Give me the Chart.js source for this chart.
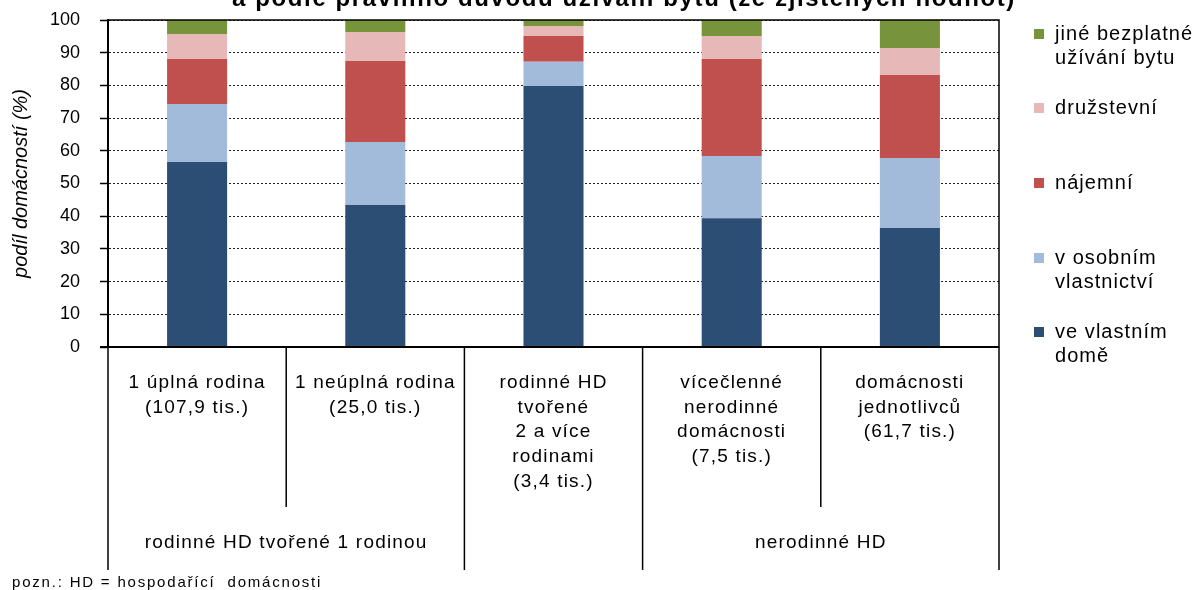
<!DOCTYPE html>
<html>
<head>
<meta charset="utf-8">
<script src="https://cdn.jsdelivr.net/npm/chart.js@4"></script>
<style>
  body { margin: 0; background: #fff; }
  canvas { display: block; }
</style>
</head>
<body>
<canvas id="housingChart" width="1196" height="590"></canvas>
<script>
const categories = [
  ['1 úplná rodina', '(107,9 tis.)'],
  ['1 neúplná rodina', '(25,0 tis.)'],
  ['rodinné HD', 'tvořené', '2 a více', 'rodinami', '(3,4 tis.)'],
  ['vícečlenné', 'nerodinné', 'domácnosti', '(7,5 tis.)'],
  ['domácnosti', 'jednotlivců', '(61,7 tis.)']
];
const groupLabels = ['rodinné HD tvořené 1 rodinou', '', 'nerodinné HD'];
const groupSizes = [2, 1, 2];

const seriesNames = [
  ['ve vlastním', 'domě'],
  ['v osobním', 'vlastnictví'],
  ['nájemní'],
  ['družstevní'],
  ['jiné bezplatné', 'užívání bytu']
];
const ownHouse = [56.6, 43.4, 79.8, 39.4, 36.4];
const ownFlat = [17.7, 19.3, 7.4, 19.0, 21.4];
const rental = [13.8, 24.8, 7.9, 29.7, 25.4];
const coop = [7.6, 8.8, 3.1, 7.0, 8.2];
const otherFree = [4.3, 3.7, 1.8, 4.9, 8.6];
const colors = ['#2C4D74', '#A3BBDB', '#C0504D', '#E6B8B7', '#77933C'];
const yTicks = [0, 10, 20, 30, 40, 50, 60, 70, 80, 90, 100];

const titleText = 'a podle právního důvodu užívání bytu (ze zjištěných hodnot)';
const noteText = 'pozn.: HD = hospodařící  domácnosti';

const FONT = 'Arial, "Liberation Sans", sans-serif';

const extras = {
  id: 'extras',
  afterDraw(chart) {
    const ctx = chart.ctx;
    const area = chart.chartArea;
    const x = chart.scales.x;
    ctx.save();

    // plot border + axis line
    ctx.strokeStyle = '#000';
    ctx.lineWidth = 1.5;
    ctx.strokeRect(area.left, area.top, area.right - area.left, area.bottom - area.top);
    ctx.lineWidth = 2;
    ctx.beginPath();
    ctx.moveTo(area.left - 8, area.bottom);
    ctx.lineTo(area.right, area.bottom);
    ctx.stroke();

    // category boundaries
    const n = categories.length;
    const bounds = [area.left];
    for (let i = 1; i < n; i++) {
      bounds.push((x.getPixelForValue(i - 1) + x.getPixelForValue(i)) / 2);
    }
    bounds.push(area.right);
    const groupEdges = new Set([0]);
    let acc = 0;
    groupSizes.forEach(s => { acc += s; groupEdges.add(acc); });
    ctx.lineWidth = 1.5;
    bounds.forEach((b, i) => {
      ctx.beginPath();
      ctx.moveTo(b, area.bottom);
      ctx.lineTo(b, groupEdges.has(i) ? 570 : 507);
      ctx.stroke();
    });

    // category labels
    ctx.fillStyle = '#000';
    ctx.textAlign = 'center';
    ctx.textBaseline = 'middle';
    ctx.font = '19px ' + FONT;
    ctx.letterSpacing = '1.2px';
    categories.forEach((lines, i) => {
      const cx = x.getPixelForValue(i);
      lines.forEach((t, j) => ctx.fillText(t, cx, 383 + j * 24.6));
    });

    // group labels
    let start = 0;
    groupSizes.forEach((s, g) => {
      const label = groupLabels[g];
      if (label) {
        const cx = (bounds[start] + bounds[start + s]) / 2;
        ctx.fillText(label, cx, 543);
      }
      start += s;
    });

    // legend (reversed order)
    ctx.font = '20px ' + FONT;
    ctx.letterSpacing = '1.05px';
    ctx.textAlign = 'left';
    const legendY = [34, 108, 183, 258, 332];
    const ds = chart.data.datasets;
    for (let k = 0; k < ds.length; k++) {
      const d = ds[ds.length - 1 - k];
      const y0 = legendY[k];
      ctx.fillStyle = d.backgroundColor;
      ctx.fillRect(1034, y0 - 5, 10, 10);
      ctx.fillStyle = '#000';
      seriesNames[ds.length - 1 - k].forEach((t, j) => ctx.fillText(t, 1055, y0 + j * 24));
    }

    // title (clipped at top) and footnote
    ctx.textAlign = 'center';
    ctx.textBaseline = 'alphabetic';
    ctx.font = 'bold 24px ' + FONT;
    ctx.letterSpacing = '1.6px';
    ctx.fillText(titleText, 624, 6);

    ctx.textAlign = 'left';
    ctx.font = '15px ' + FONT;
    ctx.letterSpacing = '1.8px';
    ctx.fillText(noteText, 12, 587);
    ctx.restore();
  }
};

new Chart(document.getElementById('housingChart'), {
  type: 'bar',
  plugins: [extras],
  data: {
    labels: categories,
    datasets: [
      { label: seriesNames[0].join(' '), data: ownHouse, backgroundColor: colors[0] },
      { label: seriesNames[1].join(' '), data: ownFlat, backgroundColor: colors[1] },
      { label: seriesNames[2].join(' '), data: rental, backgroundColor: colors[2] },
      { label: seriesNames[3].join(' '), data: coop, backgroundColor: colors[3] },
      { label: seriesNames[4].join(' '), data: otherFree, backgroundColor: colors[4] }
    ]
  },
  options: {
    responsive: false,
    animation: false,
    layout: { padding: { top: 20, right: 197, left: 0, bottom: 0 } },
    datasets: { bar: { categoryPercentage: 1, barPercentage: 0.337 } },
    plugins: { legend: { display: false }, tooltip: { enabled: false } },
    scales: {
      x: {
        stacked: true,
        grid: { display: false },
        border: { display: false },
        ticks: { display: false },
        afterFit(scale) { scale.height = 243; }
      },
      y: {
        stacked: true,
        min: 0,
        max: 100,
        afterBuildTicks(scale) { scale.ticks = yTicks.map(v => ({ value: v })); },
        afterFit(scale) {
          scale.width = 108;
          scale.paddingTop = 0;
          scale.paddingBottom = 0;
        },
        ticks: {
          color: '#000',
          font: { family: FONT, size: 18 },
          padding: 20
        },
        grid: {
          color: '#222',
          lineWidth: 1,
          tickLength: 8,
          tickColor: '#000',
          tickBorderDash: [8, 0],
          tickWidth: 1.5
        },
        border: { display: true, color: '#000', width: 2, dash: [2, 2] },
        title: {
          display: true,
          text: 'podíl domácností (%)',
          color: '#000',
          font: { family: FONT, size: 20, style: 'italic' },
          padding: { top: 9, bottom: 0 }
        }
      }
    }
  }
});
</script>
</body>
</html>
